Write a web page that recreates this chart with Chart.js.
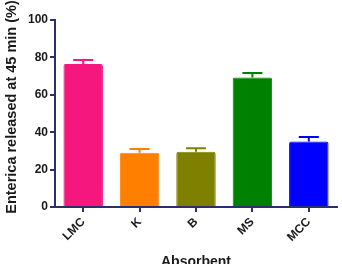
<!DOCTYPE html>
<html>
<head>
<meta charset="utf-8">
<script src="https://cdn.jsdelivr.net/npm/chart.js@4/dist/chart.umd.min.js"></script>
<style>
  html, body { margin: 0; padding: 0; background: #fff; }
  #wrap { width: 342px; height: 264px; }
</style>
</head>
<body>
<div id="wrap"><canvas id="chart" width="342" height="264"></canvas></div>
<script>
// data
const categories = ['LMC', 'K', 'B', 'MS', 'MCC'];
const released = [76.5, 29, 29.6, 69.2, 35];
const errors = [2.1, 2.0, 1.8, 2.4, 2.4];
const barColors = ['#f5167e', '#ff8000', '#808000', '#008000', '#0000ff'];
const yTitle = 'Enterica released at 45 min (%)';

const axisColor = '#2e2e6e';
const textColor = '#1a1a1a';

const errorBars = {
  id: 'errorBars',
  afterDatasetsDraw(chart) {
    let ctx = chart.ctx;
    let meta = chart.getDatasetMeta(0);
    let y = chart.scales.y;
    ctx.save();
    meta.data.forEach((bar, i) => {
      let top = y.getPixelForValue(released[i] + errors[i]);
      let base = y.getPixelForValue(released[i]);
      ctx.strokeStyle = barColors[i];
      ctx.lineWidth = 2;
      ctx.beginPath();
      ctx.moveTo(bar.x, base);
      ctx.lineTo(bar.x, top);
      ctx.moveTo(bar.x - 10, top);
      ctx.lineTo(bar.x + 10, top);
      ctx.stroke();
    });
    ctx.restore();
  }
};

// y title sits a bit above the plot centre in the original
const yTitlePlugin = {
  id: 'yTitle',
  afterDraw(chart) {
    let ctx = chart.ctx;
    ctx.save();
    ctx.translate(12, 107);
    ctx.rotate(-Math.PI / 2);
    ctx.font = 'bold 14.5px "Liberation Sans"';
    ctx.fillStyle = textColor;
    ctx.textAlign = 'center';
    ctx.textBaseline = 'middle';
    ctx.fillText(yTitle, 0, 0);
    ctx.restore();
  }
};

new Chart(document.getElementById('chart').getContext('2d'), {
  type: 'bar',
  data: {
    labels: categories,
    datasets: [{
      data: released,
      backgroundColor: barColors,
      borderColor: barColors,
      borderWidth: 1,
      borderRadius: 2,
      borderSkipped: 'bottom',
      barPercentage: 0.7,
      categoryPercentage: 1
    }]
  },
  options: {
    responsive: false,
    animation: false,
    layout: { padding: { top: 20, right: 5, left: 3, bottom: 0 } },
    plugins: { legend: { display: false }, tooltip: { enabled: false } },
    scales: {
      x: {
        offset: true,
        border: { display: true, color: axisColor, width: 2 },
        grid: { display: true, drawOnChartArea: false, color: axisColor, tickColor: axisColor, tickLength: 5, lineWidth: 2, offset: false },
        ticks: {
          minRotation: 45, maxRotation: 45, padding: 3,
          color: textColor,
          font: { family: 'Liberation Sans', size: 12, weight: 'bold' }
        },
        title: {
          display: true, text: 'Absorbent', color: textColor, padding: { top: 0, bottom: -7 },
          font: { family: 'Liberation Sans', size: 14, weight: 'bold' }
        },
        afterFit(scale) { scale.height = 57; }
      },
      y: {
        min: 0, max: 100,
        border: { display: true, color: axisColor, width: 2 },
        grid: { display: true, drawOnChartArea: false, color: axisColor, tickColor: axisColor, tickLength: 5, lineWidth: 2 },
        ticks: {
          stepSize: 20, padding: 2,
          color: textColor,
          font: { family: 'Liberation Sans', size: 12, weight: 'bold' }
        },
        afterFit(scale) { scale.width = 52; }
      }
    }
  },
  plugins: [errorBars, yTitlePlugin]
});
</script>
</body>
</html>
